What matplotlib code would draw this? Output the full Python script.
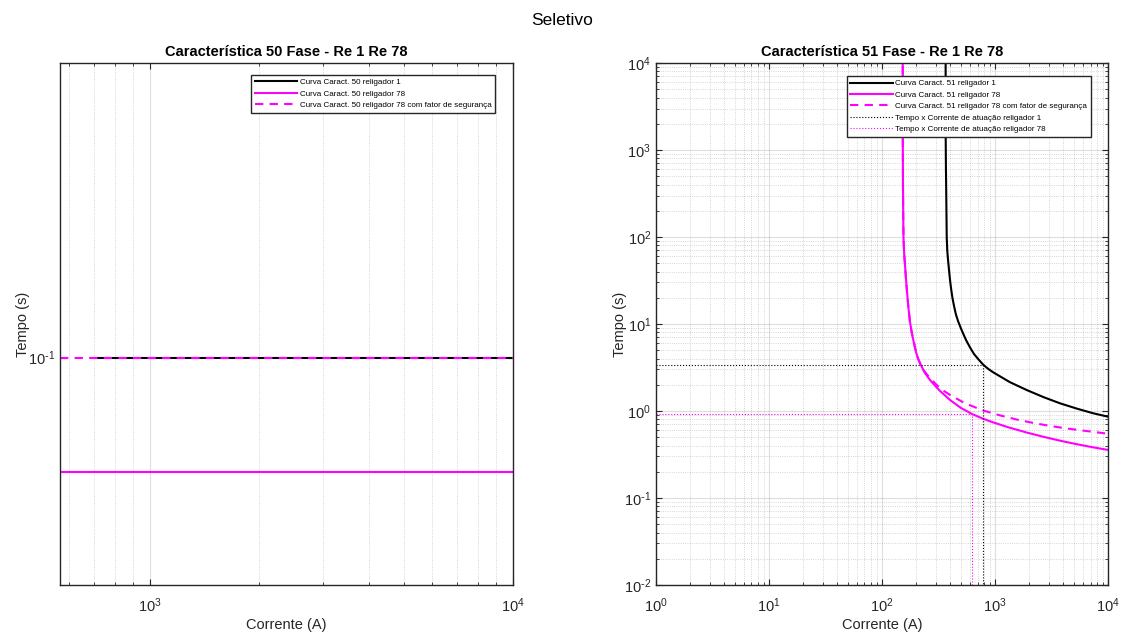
import numpy as np
import matplotlib
matplotlib.use("Agg")
import matplotlib.pyplot as plt
from matplotlib.ticker import LogLocator, NullLocator, FixedLocator, FuncFormatter, NullFormatter

plt.rcParams['font.family'] = ['Liberation Sans', 'DejaVu Sans']
plt.rcParams['mathtext.default'] = 'regular'

# funcao 50 (tempo definido)
i50_re1 = [713, 10000]
t50_re1 = [0.1, 0.1]
i50_re78 = [565, 10000]
t50_re78 = [0.05, 0.05]
i50_re78_fs = [565, 10000]
t50_re78_fs = [0.1, 0.1]

# funcao 51 (tempo inverso) - pontos das curvas
i51_re1 = [365.5, 366.2, 368, 370, 372, 374, 378, 384, 393, 400, 408, 420, 434, 450, 471, 505,
           554, 600, 652, 710, 788, 870, 966, 1350, 1906, 2700, 3758, 5300, 7413, 10000]
t51_re1 = [20000, 1374, 600, 347, 180, 97.5, 70, 54.4, 40, 32, 25.9, 20, 16.1, 13, 10.8, 8.6,
           6.55, 5.4, 4.52, 3.95, 3.4, 3.05, 2.78, 2.15, 1.743, 1.44, 1.226, 1.065, 0.941, 0.86]

i51_re78 = [152.5, 152.8, 153.3, 154.3, 155, 157, 159.8, 162.5, 165.4, 171.1, 176.9, 182.9, 189.2,
            200, 208.3, 217, 240, 266, 295, 326, 400, 500, 630, 788, 966, 1300, 1906, 2700, 3758,
            5300, 7413, 10000]
t51_re78 = [20000, 1374, 400, 150, 97.4, 65, 47.6, 35, 25.9, 15.6, 10.6, 8.1, 6.55,
            4.76, 4.01, 3.53, 2.73, 2.27, 1.95, 1.70, 1.338, 1.083, 0.92, 0.813, 0.739, 0.652, 0.566,
            0.504, 0.456, 0.415, 0.382, 0.357]

i51_re78_fs = [152.5, 152.8, 153.3, 154.3, 155, 157, 159.8, 162.5, 165.4, 171.1, 176.9, 182.9, 189.2,
               200, 208.3, 217, 232, 265, 305, 350, 400, 543, 788, 1100, 1556, 2200, 3067, 4300,
               6043, 10000]
t51_re78_fs = [20000, 1374, 400, 150, 97.4, 65, 47.6, 35, 25.9, 15.6, 10.6, 8.1, 6.55,
               4.76, 4.01, 3.53, 2.96, 2.4, 1.99, 1.71, 1.53, 1.226, 1.013, 0.892, 0.798, 0.727, 0.674,
               0.630, 0.595, 0.548]

# ponto de atuacao (corrente, tempo)
atu_re1 = (788, 3.4)
atu_re78 = (630, 0.92)

preto = '#000000'
magenta = '#ff00ff'
cinza = '#262626'


def pot10(v, pos):
    e = int(round(np.log10(v)))
    if e < 0:
        return r'$10^{\text{-}%d}$' % (-e)
    return r'$10^{%d}$' % e


def estilo(ax):
    for s in ax.spines.values():
        s.set_color(cinza)
        s.set_linewidth(1.0)
    ax.tick_params(which='both', direction='in', top=True, right=True,
                   colors=cinza, labelsize=10.5, labelcolor=cinza)
    ax.tick_params(axis='x', which='both', pad=8)
    ax.tick_params(which='major', length=4)
    ax.tick_params(which='minor', length=2.5)
    ax.xaxis.set_major_formatter(FuncFormatter(pot10))
    ax.yaxis.set_major_formatter(FuncFormatter(pot10))
    ax.xaxis.set_minor_formatter(NullFormatter())
    ax.yaxis.set_minor_formatter(NullFormatter())


def legenda(ax, x, y):
    ax.legend(loc='upper left', bbox_to_anchor=(x, y), fontsize=5.8,
              fancybox=False, edgecolor=cinza, framealpha=1, handlelength=5.3,
              handletextpad=0.3, borderpad=0.45, labelspacing=0.47, borderaxespad=0)


fig = plt.figure(figsize=(11.25, 6.34), dpi=100)
fig.suptitle('Seletivo', fontsize=12.5, y=0.979)

# --- 50 ---
ax1 = fig.add_axes([0.0533, 0.0773, 0.4027, 0.8233])
ax1.set_xscale('log')
ax1.set_yscale('log')
ax1.plot(i50_re1, t50_re1, color=preto, lw=1.5, label='Curva Caract. 50 religador 1')
ax1.plot(i50_re78, t50_re78, color=magenta, lw=1.5, label='Curva Caract. 50 religador 78')
ax1.plot(i50_re78_fs, t50_re78_fs, color=magenta, lw=1.5, dashes=(4, 3),
         label='Curva Caract. 50 religador 78 com fator de segurança')
ax1.set_xlim(565, 10000)
ax1.set_ylim(0.0253, 0.594)
ax1.xaxis.set_major_locator(LogLocator(base=10, numticks=10))
ax1.xaxis.set_minor_locator(LogLocator(base=10, subs=np.arange(2, 10), numticks=10))
ax1.yaxis.set_major_locator(FixedLocator([0.1]))
ax1.yaxis.set_minor_locator(NullLocator())
ax1.grid(True, which='major', axis='x', color=cinza, alpha=0.15, lw=0.8)
ax1.grid(True, which='minor', axis='x', color=cinza, alpha=0.25, lw=0.6, ls=':')
estilo(ax1)
ax1.set_title('Característica 50 Fase - Re 1 Re 78', fontsize=10.5, fontweight='bold', pad=5)
ax1.set_xlabel('Corrente (A)', fontsize=10.5, color=cinza, labelpad=2.5)
ax1.set_ylabel('Tempo (s)', fontsize=10.5, color=cinza, labelpad=-1.2)
legenda(ax1, 0.4216, 0.977)

# --- 51 ---
ax2 = fig.add_axes([0.5831, 0.0773, 0.4018, 0.8233])
ax2.set_xscale('log')
ax2.set_yscale('log')
ax2.plot(i51_re1, t51_re1, color=preto, lw=1.5, label='Curva Caract. 51 religador 1')
ax2.plot(i51_re78, t51_re78, color=magenta, lw=1.5, label='Curva Caract. 51 religador 78')
ax2.plot(i51_re78_fs, t51_re78_fs, color=magenta, lw=1.5, dashes=(4, 3),
         label='Curva Caract. 51 religador 78 com fator de segurança')
ax2.plot([1, atu_re1[0], atu_re1[0]], [atu_re1[1], atu_re1[1], 0.01], color=preto,
         lw=0.8, ls=':', label='Tempo x Corrente de atuação religador 1')
ax2.plot([1, atu_re78[0], atu_re78[0]], [atu_re78[1], atu_re78[1], 0.01], color=magenta,
         lw=0.8, ls=':', label='Tempo x Corrente de atuação religador 78')
ax2.set_xlim(1, 10000)
ax2.set_ylim(0.01, 10000)
ax2.xaxis.set_major_locator(LogLocator(base=10, numticks=10))
ax2.xaxis.set_minor_locator(LogLocator(base=10, subs=np.arange(2, 10), numticks=10))
ax2.yaxis.set_major_locator(LogLocator(base=10, numticks=10))
ax2.yaxis.set_minor_locator(LogLocator(base=10, subs=np.arange(2, 10), numticks=10))
ax2.grid(True, which='major', color=cinza, alpha=0.15, lw=0.8)
ax2.grid(True, which='minor', color=cinza, alpha=0.25, lw=0.6, ls=':')
estilo(ax2)
ax2.set_title('Característica 51 Fase - Re 1 Re 78', fontsize=10.5, fontweight='bold', pad=5)
ax2.set_xlabel('Corrente (A)', fontsize=10.5, color=cinza, labelpad=2.5)
ax2.set_ylabel('Tempo (s)', fontsize=10.5, color=cinza, labelpad=-2.5)
legenda(ax2, 0.4219, 0.975)

fig.savefig('out.png', dpi=100)
